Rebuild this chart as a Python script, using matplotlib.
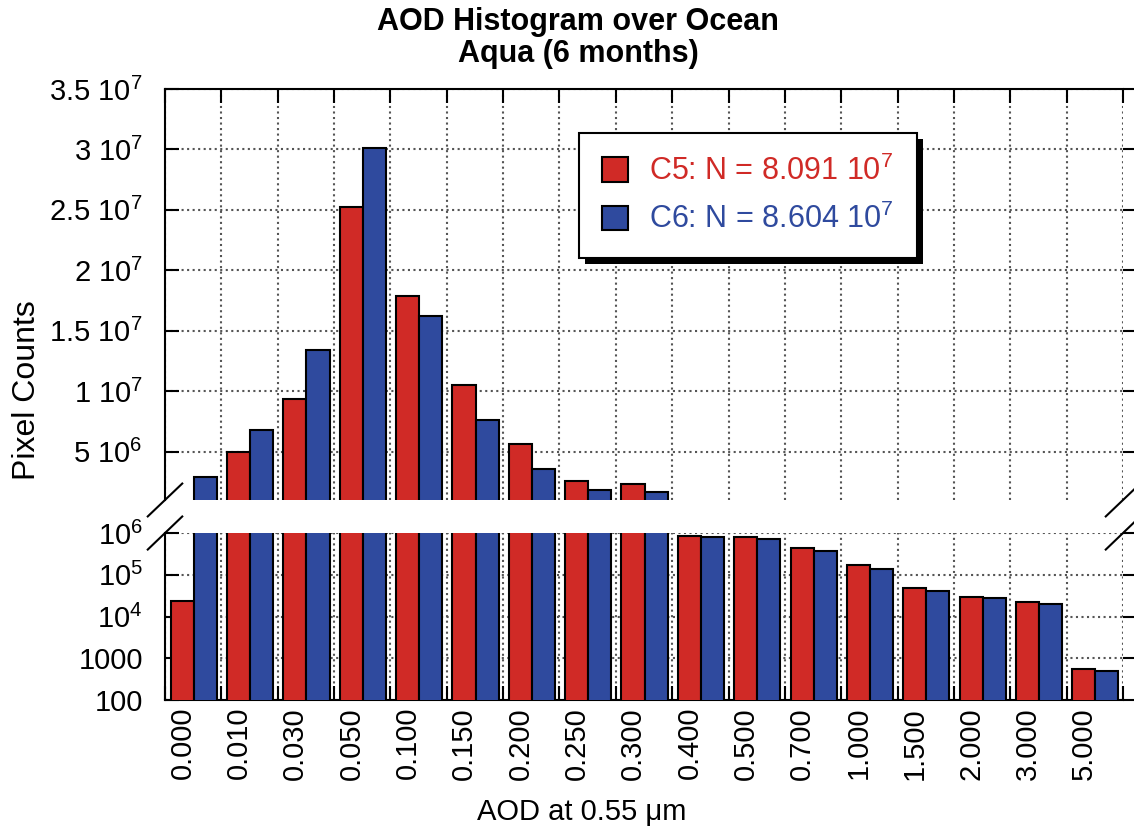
#!/usr/bin/env python3
"""
AOD histogram over ocean for Aqua (C5 vs C6), drawn with a broken y axis:
linear pixel counts above 1e6 and log counts below.
"""

import matplotlib
matplotlib.use('Agg')
import matplotlib.pyplot as plt
import matplotlib.ticker as ticker
import matplotlib.patheffects as pe
import numpy as np

# AOD bin lower edges, one category per bin
aod_bins = ['0.000', '0.010', '0.030', '0.050', '0.100', '0.150', '0.200',
            '0.250', '0.300', '0.400', '0.500', '0.700', '1.000', '1.500',
            '2.000', '3.000', '5.000']

# Pixel counts per bin
c5_counts = [2.3e4, 5.0e6, 9.35e6, 2.52e7, 1.79e7, 1.05e7, 5.6e6, 2.55e6,
             2.3e6, 8.6e5, 8.0e5, 4.5e5, 1.75e5, 4.8e4, 3.0e4, 2.25e4, 550]
c6_counts = [2.9e6, 6.8e6, 1.34e7, 3.01e7, 1.62e7, 7.6e6, 3.6e6, 1.85e6,
             1.7e6, 8.0e5, 7.2e5, 3.8e5, 1.37e5, 4.0e4, 2.75e4, 2.05e4, 500]

c5_label = 'C5: N = 8.091 10$^7$'
c6_label = 'C6: N = 8.604 10$^7$'

top_ticks = [5e6, 1e7, 1.5e7, 2e7, 2.5e7, 3e7, 3.5e7]
top_tick_labels = ['5 10$^6$', '1 10$^7$', '1.5 10$^7$', '2 10$^7$',
                   '2.5 10$^7$', '3 10$^7$', '3.5 10$^7$']
bottom_ticks = [1e2, 1e3, 1e4, 1e5, 1e6]
bottom_tick_labels = ['100', '1000', '10$^4$', '10$^5$', '10$^6$']

colors = {
    'c5': '#d02a26',
    'c6': '#2f4a9e',
    'grid': '#555555',
}

plt.rcParams['font.family'] = ['Liberation Sans', 'DejaVu Sans']
plt.rcParams['mathtext.fontset'] = 'custom'
plt.rcParams['mathtext.rm'] = 'Liberation Sans'
plt.rcParams['mathtext.default'] = 'regular'


def draw_bars(ax):
    x = np.arange(len(aod_bins))
    b5 = ax.bar(x + 0.10, c5_counts, width=0.41, align='edge',
                color=colors['c5'], edgecolor='black', linewidth=1.5, zorder=3)
    b6 = ax.bar(x + 0.51, c6_counts, width=0.41, align='edge',
                color=colors['c6'], edgecolor='black', linewidth=1.5, zorder=3)
    return b5, b6


def style_axis(ax, yticks, yticklabels, is_top):
    n = len(aod_bins)
    ax.set_xlim(0, n)
    ax.set_yticks(yticks)
    ax.set_yticklabels(yticklabels)
    ax.yaxis.set_minor_locator(ticker.NullLocator())
    ax.tick_params(axis='y', which='major', direction='in', length=10, width=1.5,
                   pad=16, labelsize=21, left=True, right=False)

    # category boundaries -> minor ticks + dotted grid
    ax.xaxis.set_minor_locator(ticker.FixedLocator(np.arange(n + 1)))
    ax.set_xticks(np.arange(n) + 0.31)
    ax.tick_params(axis='x', which='major', length=0)
    ax.tick_params(axis='x', which='minor', direction='in', length=10, width=1.5,
                   top=is_top, bottom=not is_top)
    ax.grid(True, which='major', axis='y', linestyle=':', color=colors['grid'], lw=1.5)
    ax.grid(True, which='minor', axis='x', linestyle=':', color=colors['grid'], lw=1.5)

    for side in ['left', 'right', 'top', 'bottom']:
        ax.spines[side].set_linewidth(1.5)
    ax.spines['right'].set_visible(False)
    if is_top:
        ax.spines['bottom'].set_visible(False)
        ax.tick_params(axis='x', which='major', labelbottom=False)
    else:
        ax.spines['top'].set_visible(False)
        ax.set_xticklabels(aod_bins, rotation=90, fontsize=21)
        ax.tick_params(axis='x', which='major', pad=5)

    # right-hand ticks point outward
    sec = ax.secondary_yaxis('right')
    sec.set_yticks(yticks)
    sec.yaxis.set_minor_locator(ticker.NullLocator())
    sec.tick_params(axis='y', direction='out', length=10, width=1.5, labelright=False)
    sec.spines['right'].set_visible(False)


def main():
    fig = plt.figure(figsize=(11.34, 8.3), dpi=100)
    ax_top = fig.add_axes([0.1455, 0.3976, 0.8448, 0.4952])
    ax_bot = fig.add_axes([0.1455, 0.1566, 0.8448, 0.2012])

    b5, b6 = draw_bars(ax_top)
    ax_top.set_ylim(1e6, 3.5e7)
    style_axis(ax_top, top_ticks, top_tick_labels, True)

    ax_bot.set_yscale('log')
    draw_bars(ax_bot)
    ax_bot.set_ylim(1e2, 1e6)
    style_axis(ax_bot, bottom_ticks, bottom_tick_labels, False)

    # break marks
    dx, dy_top, dy_bot = 0.018, 0.040, 0.099
    kw = dict(color='black', lw=1.5, clip_on=False, zorder=5)
    for x0 in (0, 1):
        ax_top.plot([x0 - dx, x0 + dx], [-dy_top, dy_top], transform=ax_top.transAxes, **kw)
        ax_bot.plot([x0 - dx, x0 + dx], [1 - dy_bot, 1 + dy_bot], transform=ax_bot.transAxes, **kw)

    leg = ax_top.legend([b5, b6], [c5_label, c6_label], loc='upper left',
                        bbox_to_anchor=(0.432, 0.893), borderaxespad=0,
                        fontsize=22, handlelength=0.85, handleheight=0.85,
                        handletextpad=0.7, borderpad=0.75, labelspacing=0.55,
                        fancybox=False, edgecolor='black', framealpha=1,
                        labelcolor=[colors['c5'], colors['c6']])
    leg.set_zorder(10)
    frame = leg.get_frame()
    frame.set_linewidth(1.5)
    frame.set_path_effects([pe.SimplePatchShadow(offset=(4.5, -4.5), shadow_rgbFace='black', alpha=1),
                            pe.Normal()])

    fig.text(0.51, 1 - 22 / 830, 'AOD Histogram over Ocean', ha='center', va='center',
             fontsize=22, fontweight='bold')
    fig.text(0.51, 1 - 54 / 830, 'Aqua (6 months)', ha='center', va='center',
             fontsize=22, fontweight='bold')
    fig.text(27 / 1134, 1 - 390 / 830, 'Pixel Counts', rotation=90, ha='center',
             va='center', fontsize=23)
    fig.text(582 / 1134, 1 - 812 / 830, 'AOD at 0.55 μm', ha='center', va='center',
             fontsize=21)

    fig.savefig('out.png', dpi=100)


if __name__ == '__main__':
    main()
